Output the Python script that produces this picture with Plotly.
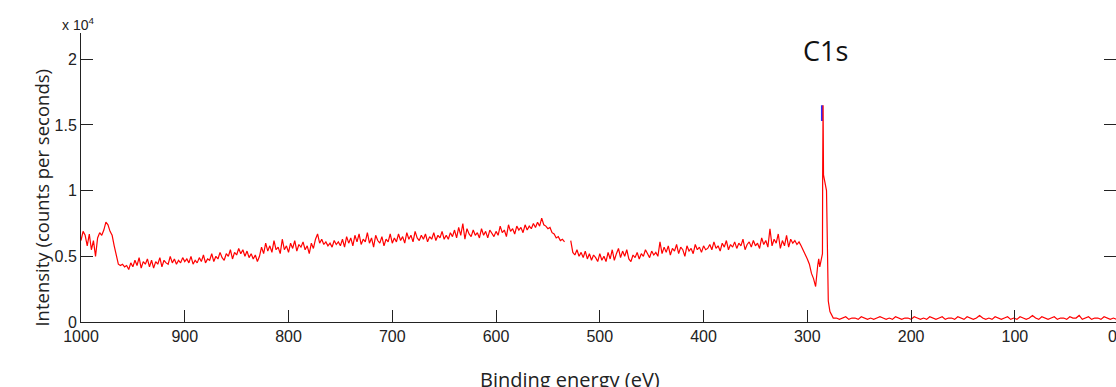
import plotly.graph_objects as go

# ---- Data (intensity in units of 1e4 counts per second) ----
# Survey region: binding energy 1000 -> 292 eV, 2 eV steps (rows of 10 = 20 eV)
cps_survey = [
    0.62, 0.69, 0.66, 0.58, 0.67, 0.55, 0.62, 0.50, 0.64, 0.68,   # 1000-982
    0.66, 0.70, 0.76, 0.74, 0.69, 0.66, 0.58, 0.50, 0.44, 0.43,   # 980-962
    0.44, 0.42, 0.43, 0.40, 0.45, 0.42, 0.47, 0.43, 0.49, 0.41,   # 960-942
    0.46, 0.44, 0.48, 0.42, 0.47, 0.41, 0.46, 0.44, 0.49, 0.42,   # 940-922
    0.47, 0.45, 0.44, 0.50, 0.45, 0.48, 0.44, 0.47, 0.45, 0.49,   # 920-902
    0.46, 0.48, 0.45, 0.50, 0.44, 0.47, 0.45, 0.49, 0.46, 0.51,   # 900-882
    0.45, 0.48, 0.47, 0.52, 0.46, 0.50, 0.48, 0.53, 0.49, 0.47,   # 880-862
    0.52, 0.50, 0.55, 0.48, 0.53, 0.51, 0.56, 0.52, 0.55, 0.50,   # 860-842
    0.54, 0.49, 0.52, 0.48, 0.51, 0.46, 0.50, 0.57, 0.52, 0.60,   # 840-822
    0.54, 0.58, 0.53, 0.62, 0.55, 0.57, 0.52, 0.63, 0.55, 0.58,   # 820-802
    0.53, 0.60, 0.56, 0.62, 0.54, 0.59, 0.57, 0.61, 0.55, 0.58,   # 800-782
    0.52, 0.60, 0.56, 0.63, 0.67, 0.60, 0.63, 0.59, 0.61, 0.58,   # 780-762
    0.60, 0.57, 0.62, 0.59, 0.61, 0.58, 0.63, 0.57, 0.65, 0.60,   # 760-742
    0.64, 0.58, 0.66, 0.61, 0.67, 0.59, 0.63, 0.61, 0.68, 0.60,   # 740-722
    0.64, 0.57, 0.66, 0.62, 0.60, 0.65, 0.58, 0.63, 0.61, 0.67,   # 720-702
    0.60, 0.64, 0.61, 0.67, 0.62, 0.65, 0.60, 0.68, 0.63, 0.66,   # 700-682
    0.61, 0.69, 0.64, 0.62, 0.66, 0.63, 0.67, 0.61, 0.65, 0.63,   # 680-662
    0.68, 0.62, 0.66, 0.64, 0.69, 0.63, 0.66, 0.63, 0.68, 0.65,   # 660-642
    0.70, 0.64, 0.72, 0.66, 0.75, 0.63, 0.71, 0.67, 0.65, 0.70,   # 640-622
    0.66, 0.68, 0.64, 0.71, 0.66, 0.69, 0.64, 0.70, 0.67, 0.65,   # 620-602
    0.69, 0.66, 0.73, 0.68, 0.70, 0.65, 0.74, 0.69, 0.71, 0.67,   # 600-582
    0.73, 0.70, 0.72, 0.68, 0.74, 0.70, 0.73, 0.71, 0.75, 0.72,   # 580-562
    0.76, 0.73, 0.79, 0.74, 0.73, 0.71, 0.72, 0.68, 0.67, 0.64,   # 560-542
    0.65, 0.62, 0.63, 0.61, None, None, 0.62, 0.53, 0.51, 0.55,   # 540-522
    0.50, 0.53, 0.49, 0.54, 0.48, 0.52, 0.47, 0.51, 0.49, 0.46,   # 520-502
    0.52, 0.47, 0.50, 0.46, 0.53, 0.48, 0.55, 0.47, 0.52, 0.56,   # 500-482
    0.49, 0.54, 0.50, 0.55, 0.48, 0.46, 0.51, 0.49, 0.53, 0.48,   # 480-462
    0.52, 0.50, 0.55, 0.52, 0.49, 0.54, 0.51, 0.53, 0.50, 0.61,   # 460-442
    0.52, 0.57, 0.53, 0.58, 0.51, 0.56, 0.54, 0.59, 0.52, 0.57,   # 440-422
    0.55, 0.50, 0.58, 0.54, 0.56, 0.52, 0.59, 0.55, 0.57, 0.53,   # 420-402
    0.58, 0.55, 0.56, 0.59, 0.55, 0.61, 0.56, 0.58, 0.54, 0.60,   # 400-382
    0.57, 0.62, 0.55, 0.59, 0.57, 0.61, 0.56, 0.60, 0.58, 0.63,   # 380-362
    0.55, 0.59, 0.61, 0.57, 0.62, 0.58, 0.60, 0.56, 0.64, 0.59,   # 360-342
    0.62, 0.57, 0.71, 0.58, 0.63, 0.60, 0.67, 0.56, 0.62, 0.58,   # 340-322
    0.66, 0.57, 0.63, 0.60, 0.62, 0.59, 0.61, 0.58, 0.55, 0.52,   # 320-302
    0.48, 0.44, 0.37, 0.33, 0.27,                                 # 300-292
]
be_survey = [1000 - 2 * i for i in range(len(cps_survey))]

# C1s peak region
be_peak = [290, 289, 288, 287, 286, 285.4, 285.2, 284.8, 284.4, 281.5, 279.8, 278.2, 275]
cps_peak = [0.43, 0.48, 0.42, 0.46, 0.50, 0.52, 1.14, 1.65, 1.12, 1.00, 0.16, 0.08, 0.03]

# Low-energy baseline: 272 -> 2 eV, 3 eV steps
cps_tail = [
    0.03, 0.02, 0.03, 0.04, 0.02, 0.03, 0.03, 0.02, 0.04, 0.03,
    0.02, 0.03, 0.02, 0.03, 0.04, 0.03, 0.02, 0.03, 0.02, 0.04,
    0.03, 0.02, 0.03, 0.03, 0.02, 0.04, 0.03, 0.02, 0.03, 0.02,
    0.04, 0.03, 0.02, 0.03, 0.04, 0.02, 0.03, 0.03, 0.02, 0.04,
    0.03, 0.02, 0.04, 0.03, 0.02, 0.03, 0.05, 0.03, 0.02, 0.03,
    0.02, 0.04, 0.03, 0.02, 0.03, 0.04, 0.02, 0.03, 0.02, 0.04,
    0.03, 0.02, 0.03, 0.05, 0.03, 0.02, 0.04, 0.03, 0.02, 0.03,
    0.04, 0.02, 0.03, 0.03, 0.02, 0.04, 0.03, 0.03, 0.05, 0.02,
    0.03, 0.04, 0.02, 0.03, 0.03, 0.02, 0.04, 0.03, 0.02, 0.03,
    0.02,
]
be_tail = [272 - 3 * i for i in range(len(cps_tail))]

# small blue marker at top of C1s peak
be_marker = [285.9, 285.9]
cps_marker = [1.53, 1.65]

x_ticks = [1000, 900, 800, 700, 600, 500, 400, 300, 200, 100]
y_ticks = [0, 0.5, 1, 1.5, 2]
y_ticktext = ["0", "0.5", "1", "1.5", "2"]

be_all = be_survey + be_peak + be_tail
cps_all = cps_survey + cps_peak + cps_tail

fig = go.Figure()
fig.add_trace(go.Scatter(x=be_marker, y=cps_marker, mode="lines",
                         line=dict(color="#2a2aff", width=2), showlegend=False))
fig.add_trace(go.Scatter(x=be_all, y=cps_all, mode="lines",
                         line=dict(color="#ff0000", width=1.2), connectgaps=False,
                         showlegend=False))

tickfont = dict(family="Liberation Sans, Arial", size=16, color="#222")
fig.update_layout(
    width=1116, height=387,
    margin=dict(l=81, r=0, t=33, b=65),
    paper_bgcolor="white", plot_bgcolor="white",
    xaxis=dict(range=[1000, 2.5], tickvals=x_ticks, ticks="inside", ticklen=12,
               tickcolor="#222", showline=True, linecolor="#222", linewidth=1,
               showgrid=False, zeroline=False, tickfont=tickfont),
    yaxis=dict(range=[0, 2.2], tickvals=y_ticks, ticktext=y_ticktext,
               ticks="inside", ticklen=12, tickcolor="#222", showline=True,
               linecolor="#222", linewidth=1, mirror="ticks",
               showgrid=False, zeroline=False, tickfont=tickfont),
    annotations=[
        dict(text="C1s", x=282.5, y=2.07, xref="x", yref="y", showarrow=False,
             font=dict(family="Open Sans", size=27, color="#111")),
        dict(text="x 10<sup>4</sup>", x=0.0145, y=0.9965, xref="paper", yref="paper",
             xanchor="right", yanchor="bottom", yshift=-1, showarrow=False,
             font=dict(family="Liberation Sans, Arial", size=14, color="#222")),
        dict(text="Intensity (counts per seconds)", x=-0.0531, y=0.429,
             xref="paper", yref="paper", textangle=-90, showarrow=False,
             font=dict(family="Open Sans", size=18.5, color="#222")),
        dict(text="Binding energy (eV)", x=0.4725, y=-0.2526,
             xref="paper", yref="paper", showarrow=False,
             font=dict(family="Open Sans", size=20, color="#222")),
        dict(text="0", x=1.0025, y=0, xref="paper", yref="paper", yanchor="top",
             yshift=-4, showarrow=False, font=tickfont),
    ],
)

fig.write_html("out.html", config={"displayModeBar": False},
               post_script="document.body.style.margin='0px';")
